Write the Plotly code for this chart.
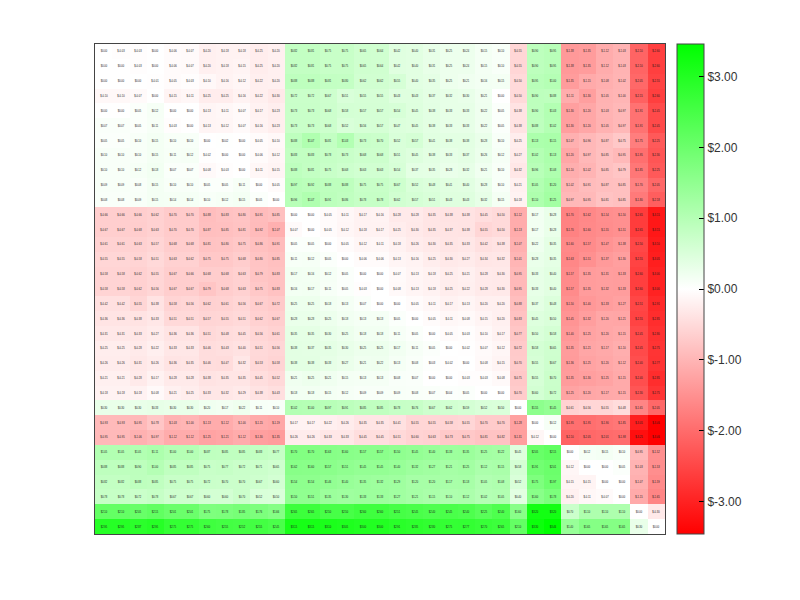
import plotly.graph_objects as go

row_labels = [str(i) for i in range(33)]
col_labels = [str(i) for i in range(33)]

r00 = [0,-.03,-.03,0,-.06,-.07,-.20,-.18,-.18,-.25,-.20, .82,.81,.75,.75,.65,.64,.42,.40,.31,.25,.24,.15, .10,-.55,.90,.95,-1.38,-1.35,-1.12,-1.03,-2.10,-2.60]
r01 = [0,0,-.03,0,-.06,-.07,-.20,-.18,-.15,-.25,-.20, .82,.81,.75,.75,.65,.64,.42,.40,.31,.25,.24,.15, .10,-.55,.90,.95,-1.38,-1.35,-1.12,-1.03,-2.10,-2.60]
r02 = [0,0,0,-.01,-.05,-.03,-.10,-.16,-.12,-.22,-.20, .88,.88,.81,.80,.62,.62,.55,.40,.35,.25,.21,.16, .15,-.50,.95,1.00,-1.35,-1.15,-1.08,-1.02,-2.05,-2.55]
r03 = [-.10,-.10,-.07,0,-.15,-.11,-.25,-.25,-.16,-.22,-.30, .72,.72,.67,.51,.55,.55,.43,.43,.37,.32,.30,.21, 0,-.50,.90,.88,-1.11,-1.30,-1.05,-1.00,-2.15,-2.60]
r04 = [0,0,.05,.12,0,0,-.13,-.11,-.07,-.17,-.23, .73,.73,.68,.58,.57,.57,.54,.45,.38,.33,.33,.22, .05,-.38,.90,1.03,-1.30,-1.20,-1.03,-.97,-1.91,-2.45]
r05 = [.07,.07,.05,.11,-.03,0,-.13,-.12,-.07,-.16,-.23, .73,.73,.68,.52,.56,.57,.47,.45,.38,.33,.33,.22, .05,-.38,.88,1.02,-1.30,-1.20,-1.05,-.97,-1.91,-2.45]
r06 = [.05,.05,.10,.15,.10,.10,0,.02,0,-.05,-.10, .88,1.07,.81,1.03,.73,.70,.52,.57,.41,.38,.38,.28, .10,-.25,1.13,1.15,-1.07,-.96,-.87,-.75,-1.75,-2.25]
r07 = [.10,.10,.10,.15,.11,.12,-.02,0,0,-.06,-.12, .83,.83,.78,.73,.68,.68,.51,.45,.38,.33,.37,.26, .12,-.27,1.02,1.13,-1.20,-.97,-.85,-.95,-1.95,-2.30]
r08 = [.10,.10,.12,.18,.07,.07,-.08,-.03,0,-.11,-.15, .88,.81,.75,.68,.63,.63,.54,.37,.35,.28,.32,.21, .10,-.32,.96,1.08,-1.10,-1.02,-.85,-.79,-1.85,-2.25]
r09 = [.09,.09,.08,.15,.10,.10,.05,.05,.11,0,-.05, .97,.92,.88,.88,.75,.75,.67,.52,.48,.41,.40,.28, .10,-.21,1.05,1.20,-1.02,-.91,-.87,-.85,-1.70,-2.05]
r10 = [.08,.08,.09,.15,.14,.14,.10,.12,.15,.05,0, .96,1.07,.91,.86,.78,.78,.62,.57,.51,.43,.43,.32, .15,-.18,1.10,1.25,-.97,-.95,-.81,-.85,-1.80,-2.18]
r11 = [-.66,-.66,-.66,-.62,-.70,-.70,-.88,-.83,-.80,-.91,-.85, 0,0,-.05,-.11,-.17,-.16,-.28,-.28,-.35,-.38,-.38,-.45, -.50,-1.12,.17,.28,-1.70,-1.62,-1.54,-1.50,-2.65,-3.15]
r12 = [-.67,-.67,-.68,-.63,-.70,-.70,-.87,-.85,-.81,-.92,-1.07, -.07,0,-.05,-.12,-.18,-.17,-.25,-.30,-.35,-.37,-.38,-.55, -.50,-1.13,.17,.28,-1.70,-1.60,-1.55,-1.51,-2.65,-3.15]
r13 = [-.61,-.61,-.63,-.57,-.68,-.68,-.81,-.80,-.75,-.86,-.91, .05,.05,0,-.05,-.12,-.11,-.18,-.26,-.30,-.35,-.33,-.42, -.38,-1.07,.22,.35,-1.60,-1.57,-1.47,-1.38,-2.50,-3.10]
r14 = [-.55,-.55,-.58,-.51,-.63,-.62,-.75,-.75,-.68,-.80,-.85, .11,.12,.05,0,-.06,-.06,-.13,-.16,-.25,-.30,-.27,-.34, -.32,-1.01,.28,.35,-1.63,-1.51,-1.37,-1.30,-2.55,-3.05]
r15 = [-.58,-.58,-.62,-.55,-.67,-.66,-.68,-.68,-.63,-.79,-.83, .17,.16,.12,.05,0,0,-.07,-.13,-.18,-.25,-.21,-.28, -.30,-.95,.33,.40,-1.57,-1.35,-1.31,-1.33,-2.60,-3.00]
r16 = [-.58,-.58,-.62,-.56,-.67,-.67,-.79,-.68,-.63,-.75,-.83, .16,.17,.11,.05,-.03,0,-.08,-.13,-.18,-.25,-.22,-.28, -.30,-.95,.33,.40,-1.57,-1.35,-1.32,-1.33,-2.60,-3.00]
r17 = [-.42,-.42,-.55,-.38,-.58,-.56,-.62,-.61,-.56,-.67,-.72, .25,.25,.18,.13,.07,0,0,-.05,-.11,-.17,-.13,-.20, -.20,-.88,.37,.48,-1.50,-1.40,-1.33,-1.27,-2.51,-2.91]
r18 = [-.36,-.36,-.38,-.33,-.51,-.51,-.57,-.55,-.51,-.62,-.67, .28,.28,.25,.18,.13,.13,.05,0,-.05,-.11,-.08,-.15, -.20,-.83,.45,.50,-1.45,-1.32,-1.20,-1.21,-2.55,-2.85]
r19 = [-.31,-.31,-.33,-.27,-.36,-.36,-.51,-.48,-.45,-.56,-.61, .35,.35,.30,.25,.18,.18,.11,.05,0,-.05,-.03,-.10, -.17,-.77,.50,.58,-1.40,-1.25,-1.20,-1.15,-2.45,-2.80]
r20 = [-.25,-.25,-.28,-.22,-.33,-.33,-.46,-.43,-.40,-.51,-.56, .38,.37,.35,.30,.25,.25,.17,.11,.05,0,-.02,-.07, -.12,-.72,.58,.65,-1.35,-1.21,-1.17,-1.10,-2.45,-2.75]
r21 = [-.26,-.26,-.31,-.26,-.36,-.35,-.46,-.47,-.32,-.53,-.58, .38,.38,.33,.27,.21,.22,.13,.08,.03,-.02,0,-.08, -.15,-.70,.55,.67,-1.36,-1.25,-1.20,-1.12,-2.40,-2.77]
r22 = [-.21,-.21,-.28,-.17,-.28,-.28,-.38,-.35,-.35,-.45,-.52, .21,.25,.21,.15,.13,.13,.08,.07,0,0,-.03,-.03, -.08,-.75,.55,.70,-1.35,-1.30,-1.25,-1.15,-2.40,-2.85]
r23 = [-.18,-.18,-.18,-.08,-.21,-.25,-.33,-.32,-.29,-.38,-.43, .18,.18,.15,.12,.09,.09,.09,.08,.07,.04,.05,0, 0,-.70,.60,.72,-1.25,-1.20,-1.17,-1.15,-2.30,-2.75]
r24 = [.30,.30,.30,.33,.30,.30,.20,.17,.22,.11,.10, 1.02,1.00,.97,.91,.85,.85,.78,.76,.67,.62,.59,.52, .50,0,1.55,1.45,-.61,-.56,-.55,-.48,-1.65,-2.05]
r25 = [-.93,-.93,-.95,-.78,-1.03,-1.00,-1.13,-1.12,-1.00,-1.15,-1.19, -.17,-.17,-.22,-.26,-.35,-.35,-.41,-.55,-.55,-.58,-.55,-.70, -.70,-1.28,0,.12,-1.95,-1.95,-1.90,-1.85,-3.05,-3.46]
r26 = [-.95,-.95,-1.06,-.97,-1.12,-1.12,-1.25,-1.21,-1.12,-1.30,-1.35, -.26,-.26,-.33,-.33,-.45,-.45,-.51,-.60,-.63,-.73,-.75,-.81, -.82,-1.31,-.12,0,-2.10,-2.05,-2.01,-1.98,-3.25,-3.46]
r27 = [1.05,1.05,1.05,1.11,1.00,1.00,.87,.85,.85,.83,.77, 1.70,1.70,1.63,1.60,1.57,1.57,1.50,1.45,1.40,1.33,1.35,1.25, 1.22,.45,2.05,2.15,0,.12,.15,.10,-.95,-1.52]
r28 = [.88,.88,.90,1.00,.85,.85,.75,.77,.72,.71,.65, 1.62,1.60,1.57,1.51,1.45,1.45,1.40,1.32,1.27,1.21,1.25,1.12, 1.15,.58,1.91,2.01,-.12,0,0,.05,-1.03,-1.53]
r29 = [.82,.82,.88,.85,.75,.75,.72,.70,.70,.67,.60, 1.54,1.54,1.46,1.40,1.35,1.32,1.29,1.20,1.20,1.17,1.18,1.05, 1.08,.52,1.75,1.97,-.15,-.15,0,0,-1.07,-1.59]
r30 = [.78,.78,.72,.78,.67,.67,.60,.60,.70,.52,.50, 1.50,1.51,1.35,1.30,1.33,1.33,1.27,1.21,1.15,1.10,1.12,1.02, 1.05,.40,1.60,1.78,-.20,-.11,-.07,0,-1.15,-1.65]
r31 = [2.10,2.10,2.05,2.15,2.01,2.01,1.75,1.78,1.85,1.76,1.66, 2.65,2.65,2.50,2.50,2.60,2.60,2.51,2.45,2.40,2.45,2.40,2.25, 2.40,1.60,3.20,3.20,.70,1.10,1.10,1.10,0,-.30]
r32 = [2.95,2.95,2.87,2.95,2.75,2.75,2.60,2.55,2.52,2.55,2.45, 3.15,3.15,3.10,3.05,3.00,3.00,2.91,2.85,2.80,2.75,2.77,2.70, 2.65,2.10,3.30,3.46,1.40,1.65,1.65,1.65,.30,0]

z_values = [r00,r01,r02,r03,r04,r05,r06,r07,r08,r09,r10,r11,r12,r13,r14,r15,r16,
            r17,r18,r19,r20,r21,r22,r23,r24,r25,r26,r27,r28,r29,r30,r31,r32]
assert all(len(r) == 33 for r in z_values), [len(r) for r in z_values]

cbar_vals = [-3, -2, -1, 0, 1, 2, 3]
cbar_text = ["$-3.00", "$-2.00", "$-1.00", "$0.00", "$1.00", "$2.00", "$3.00"]
limit = 3.46

fig = go.Figure(go.Heatmap(
    z=z_values, x=col_labels, y=row_labels,
    zmin=-limit, zmax=limit,
    colorscale=[[0, "#ff0000"], [0.5, "#ffffff"], [1, "#00ff00"]],
    texttemplate="$%{z:.2f}",
    textfont=dict(family="Liberation Sans", size=2.6, color="#1a1a1a"),
    hoverongaps=False,
    colorbar=dict(
        x=1.0211, xanchor="left", xpad=0, y=0.5, yanchor="middle", ypad=0,
        len=1, lenmode="fraction", thickness=27, thicknessmode="pixels",
        tickmode="array", tickvals=cbar_vals, ticktext=cbar_text,
        ticks="inside", ticklen=5, tickcolor="#000000", tickwidth=1,
        tickfont=dict(family="Liberation Sans", size=12, color="#333333"),
        outlinecolor="#444444", outlinewidth=1,
    ),
))
axis = dict(showticklabels=False, ticks="", showgrid=False, zeroline=False,
            showline=True, mirror=True, linecolor="#444444", linewidth=1)
fig.update_xaxes(**axis)
fig.update_yaxes(autorange="reversed", **axis)
fig.update_layout(width=800, height=600, margin=dict(l=87, r=143, t=36, b=74),
                  paper_bgcolor="white", plot_bgcolor="white",
                  font=dict(family="Liberation Sans"))
fig.write_html("out.html")
